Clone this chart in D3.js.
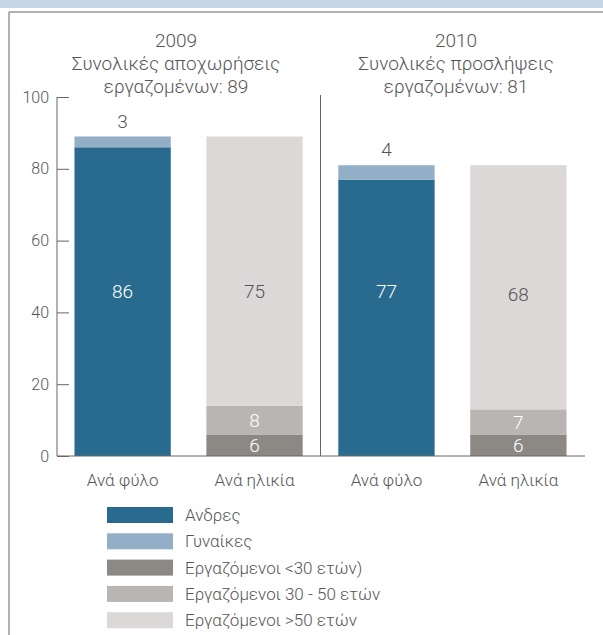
<!DOCTYPE html>
<html>
<head>
<meta charset="utf-8">
<script src="https://cdn.jsdelivr.net/npm/d3@7"></script>
<style>
  body { margin: 0; background: #fff; }
  text { font-family: Roboto, "Liberation Sans", sans-serif; font-weight: 300; fill: #555; }
</style>
</head>
<body>
<div class="chart"></div>
<script>
// bars, left to right
const bars = ['Ανά φύλο', 'Ανά ηλικία', 'Ανά φύλο', 'Ανά ηλικία'];
const years = ['2009', '2010'];
const titles = ['Συνολικές αποχωρήσεις', 'Συνολικές προσλήψεις'];
const totals = [89, 81];

// series (2009, 2010)
const men = [86, 77];
const women = [3, 4];
const under30 = [6, 6];
const age30to50 = [8, 7];
const over50 = [75, 68];

const keys = ['men', 'women', 'under30', 'age30to50', 'over50'];
const legendLabels = ['Ανδρες', 'Γυναίκες', 'Εργαζόμενοι <30 ετών)', 'Εργαζόμενοι 30 - 50 ετών', 'Εργαζόμενοι >50 ετών'];
const colors = ['#286b8f', '#93afc7', '#8c8984', '#b9b5b2', '#dcd8d8'];
const yTicks = [0, 20, 40, 60, 80, 100];

const width = 603, height = 635;
const svg = d3.select('.chart').append('svg')
  .attr('width', width)
  .attr('height', height);

// frame
svg.append('rect').attr('x', 0).attr('y', 0).attr('width', width).attr('height', 8).attr('fill', '#c7d6e4');
svg.append('line').attr('x1', 9).attr('x2', width).attr('y1', 12).attr('y2', 12).attr('stroke', '#999').attr('stroke-width', 1.5);
svg.append('line').attr('x1', 9).attr('x2', 9).attr('y1', 12).attr('y2', height).attr('stroke', '#999').attr('stroke-width', 1.5);

// table for the stack: one row per bar
const table = bars.map((b, i) => {
  const g = Math.floor(i / 2);
  const row = { bar: i, men: 0, women: 0, under30: 0, age30to50: 0, over50: 0 };
  if (i % 2 === 0) { row.men = men[g]; row.women = women[g]; }
  else { row.under30 = under30[g]; row.age30to50 = age30to50[g]; row.over50 = over50[g]; }
  return row;
});
const series = d3.stack().keys(keys)(table);

const x = d3.scaleBand().domain(d3.range(bars.length)).range([56, 585])
  .paddingInner(0.27).paddingOuter(0.14);
const y = d3.scaleLinear().domain([0, 100]).range([456, 97]);

// y axis
const yAxis = svg.append('g').attr('transform', 'translate(57,0)')
  .call(d3.axisRight(y).tickValues(yTicks).tickSize(12).tickFormat(''));
yAxis.select('.domain').attr('stroke', '#666').attr('d', 'M0,' + y(100) + 'V' + y(0));
yAxis.selectAll('.tick line').attr('stroke', '#666');
svg.selectAll('text.ylab').data(yTicks).enter().append('text')
  .attr('class', 'ylab')
  .attr('x', 49).attr('y', d => y(d)).attr('dy', '0.35em')
  .attr('text-anchor', 'end').attr('font-size', 16)
  .text(d => d);

// bars
svg.selectAll('g.series').data(series).enter().append('g')
  .attr('class', 'series')
  .attr('fill', (d, i) => colors[i])
  .selectAll('rect').data(d => d.filter(s => s[1] > s[0])).enter().append('rect')
  .attr('x', d => x(d.data.bar))
  .attr('width', x.bandwidth())
  .attr('y', d => y(d[1]))
  .attr('height', d => y(d[0]) - y(d[1]));

// baseline and divider
svg.append('line').attr('x1', 57).attr('x2', 585).attr('y1', y(0)).attr('y2', y(0)).attr('stroke', '#666');
svg.append('line').attr('x1', (x(1) + x.bandwidth() + x(2)) / 2).attr('x2', (x(1) + x.bandwidth() + x(2)) / 2)
  .attr('y1', 95).attr('y2', y(0)).attr('stroke', '#666');

// value labels
const cx = i => x(i) + x.bandwidth() / 2;
const bigAt = [46, 46, 46, 45];
const labels = [];
years.forEach((yr, g) => {
  labels.push({ bar: 2 * g, v: men[g], at: bigAt[2 * g], fill: '#fff' });
  labels.push({ bar: 2 * g, v: women[g], at: men[g] + women[g] + 4.3, fill: '#555' });
  labels.push({ bar: 2 * g + 1, v: over50[g], at: bigAt[2 * g + 1], fill: '#555' });
  labels.push({ bar: 2 * g + 1, v: age30to50[g], at: under30[g] + age30to50[g] / 2, fill: '#fff' });
  labels.push({ bar: 2 * g + 1, v: under30[g], at: under30[g] / 2, fill: '#fff' });
});
svg.selectAll('text.val').data(labels).enter().append('text')
  .attr('class', 'val')
  .attr('x', d => cx(d.bar)).attr('y', d => y(d.at)).attr('dy', '0.35em')
  .attr('text-anchor', 'middle').attr('font-size', 19)
  .style('fill', d => d.fill)
  .text(d => d.v);

// category labels
svg.selectAll('text.cat').data(bars).enter().append('text')
  .attr('class', 'cat')
  .attr('x', (d, i) => cx(i)).attr('y', 480).attr('dy', '0.35em')
  .attr('text-anchor', 'middle').attr('font-size', 17)
  .text(d => d);

// titles
const titleX = [176, 456];
years.forEach((yr, g) => {
  const lines = [yr, titles[g], 'εργαζομένων: ' + totals[g]];
  svg.selectAll('text.t' + g).data(lines).enter().append('text')
    .attr('class', 't' + g)
    .attr('x', titleX[g]).attr('y', (d, i) => 40 + 23 * i).attr('dy', '0.35em')
    .attr('text-anchor', 'middle').attr('font-size', 19)
    .text(d => d);
});

// legend
const lg = svg.selectAll('g.leg').data(legendLabels).enter().append('g')
  .attr('class', 'leg')
  .attr('transform', (d, i) => 'translate(107,' + (507 + 26.3 * i) + ')');
lg.append('rect').attr('width', 66).attr('height', 16).attr('fill', (d, i) => colors[i]);
lg.append('text').attr('x', 78).attr('y', 8).attr('dy', '0.35em').attr('font-size', 17).text(d => d);
</script>
</body>
</html>
